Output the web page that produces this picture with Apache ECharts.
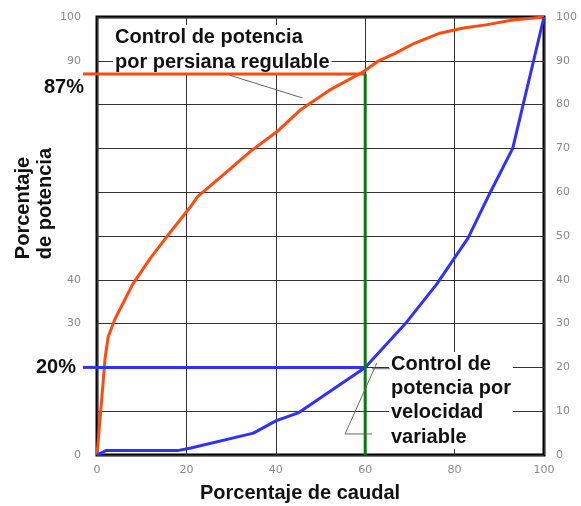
<!DOCTYPE html>
<html>
<head>
<meta charset="utf-8">
<script src="https://cdn.jsdelivr.net/npm/echarts@6/dist/echarts.min.js"></script>
<style>
  html, body { margin: 0; padding: 0; background: #fff; }
  #chart { width: 581px; height: 506px; }
</style>
</head>
<body>
<div id="chart"></div>
<script>
    // curva de control por persiana regulable
    var persianaX = [0, 1, 1.8, 2.5, 4, 6, 8, 12, 16.5, 20.8, 22.5, 28.5, 34.2, 40.6, 45.4, 52, 59.6, 63, 66.7, 71, 76.7, 82, 87, 93, 100];
    var persianaY = [0, 12, 22, 27, 31, 35, 39, 45, 51, 56.5, 59, 64.2, 69.2, 74.1, 78.7, 83.3, 87.5, 90, 91.7, 94, 96.3, 97.5, 98.2, 99.3, 100];

    // curva de control por velocidad variable
    var velocidadX = [0, 2, 18, 21, 35, 40, 45, 60, 69, 76, 83, 88, 93, 100];
    var velocidadY = [0, 1, 1, 1.6, 5, 7.8, 9.6, 20, 30, 39, 49.5, 60, 70, 100];

    var leftTicks = [0, 30, 40, 90, 100];   // the others are missing in the original
    var caudalRef = 60;
    var potPersiana = 87;
    var potVelocidad = 20;

    var pairs = function (xs, ys) {
        var out = [];
        for (var i = 0; i < xs.length; i++) out.push([xs[i], ys[i]]);
        return out;
    };

    var m_chart = echarts.init(document.getElementById('chart'));

    var labelStyle = { color: '#8a8a8a', fontSize: 11, fontFamily: 'DejaVu Sans' };
    var bold20 = 'bold 20px "Liberation Sans", Arial, sans-serif';

    var thin = function (pts) {
        return {
            type: 'line', data: pts, symbol: 'none', silent: true,
            lineStyle: { color: '#666', width: 1 }
        };
    };

    var option = {
        animation: false,
        grid: {
            left: 97, right: 37, top: 17, bottom: 51,
            show: true, borderColor: '#000', borderWidth: 3
        },
        xAxis: {
            type: 'value', min: 0, max: 100, interval: 20,
            axisLine: { show: false },
            axisTick: { show: false },
            axisLabel: Object.assign({ margin: 10 }, labelStyle),
            splitLine: { lineStyle: { color: '#333', width: 1 } }
        },
        yAxis: [{
            type: 'value', min: 0, max: 100, interval: 10,
            axisLine: { show: false },
            axisTick: { show: false },
            axisLabel: Object.assign({
                margin: 16,
                formatter: function (v) { return leftTicks.indexOf(v) >= 0 ? String(v) : ''; }
            }, labelStyle),
            splitLine: { lineStyle: { color: '#333', width: 1 } }
        }, {
            type: 'value', min: 0, max: 100, interval: 10, position: 'right',
            axisLine: { show: false },
            axisTick: { show: false },
            axisLabel: Object.assign({ margin: 12 }, labelStyle),
            splitLine: { show: false }
        }],
        series: [{
            name: 'persiana',
            type: 'line',
            data: pairs(persianaX, persianaY),
            symbol: 'none',
            lineStyle: { color: '#ff4a10', width: 3 }
        }, {
            name: 'velocidad',
            type: 'line',
            data: pairs(velocidadX, velocidadY),
            symbol: 'none',
            lineStyle: { color: '#3030ff', width: 3 }
        }, {
            type: 'line',
            data: [[0, potPersiana], [caudalRef, potPersiana]],
            symbol: 'none', silent: true,
            lineStyle: { color: '#ff4a10', width: 3 }
        }, {
            type: 'line',
            data: [[0, potVelocidad], [caudalRef, potVelocidad]],
            symbol: 'none', silent: true,
            lineStyle: { color: '#3030ff', width: 3 }
        }, {
            type: 'line',
            data: [[caudalRef, 0], [caudalRef, potPersiana]],
            symbol: 'none', silent: true,
            lineStyle: { color: '#008000', width: 3 }
        },
            thin([[29.7, 86.7], [46, 81.5]]),
            thin([[65.5, 19.7], [61.5, 19.7]]),
            thin([[62.6, 21], [55.5, 4.8], [61.5, 4.8]])
        ],
        graphic: [
            { type: 'text', z: 1, left: 113, top: 25,
              style: { text: 'Control de potencia\npor persiana regulable', font: bold20, fill: '#111', lineHeight: 25,
                       backgroundColor: '#fff', padding: [0, 2, 0, 2] } },
            { type: 'text', z: 1, left: 389, top: 352,
              style: { text: 'Control de\npotencia por\nvelocidad\nvariable', font: bold20, fill: '#111', lineHeight: 24.3,
                       backgroundColor: '#fff', padding: [0, 2, 0, 2] } },
            { type: 'text', left: 44, top: 77, style: { text: potPersiana + '%', font: bold20, fill: '#111' } },
            { type: 'text', left: 36, top: 357, style: { text: potVelocidad + '%', font: bold20, fill: '#111' } },
            { type: 'text', left: 200, top: 483, style: { text: 'Porcentaje de caudal', font: bold20, fill: '#111' } },
            { type: 'text', left: 12, top: 148, rotation: Math.PI / 2,
              style: { text: 'Porcentaje\nde potencia', font: bold20, fill: '#111', lineHeight: 22, align: 'center' } }
        ]
    };

    m_chart.setOption(option);

    // short stubs of the 87% / 20% lines that run out to the left of the frame
    var stub = function (id, val, color) {
        var p0 = m_chart.convertToPixel({ xAxisIndex: 0, yAxisIndex: 0 }, [0, val]);
        return {
            id: id, type: 'line', z: 5,
            shape: { x1: p0[0] - 14, y1: p0[1], x2: p0[0], y2: p0[1] },
            style: { stroke: color, lineWidth: 3 }
        };
    };
    option.graphic.push(stub('s87', potPersiana, '#ff4a10'));
    option.graphic.push(stub('s20', potVelocidad, '#3030ff'));
    m_chart.setOption({ graphic: option.graphic });
</script>
</body>
</html>
